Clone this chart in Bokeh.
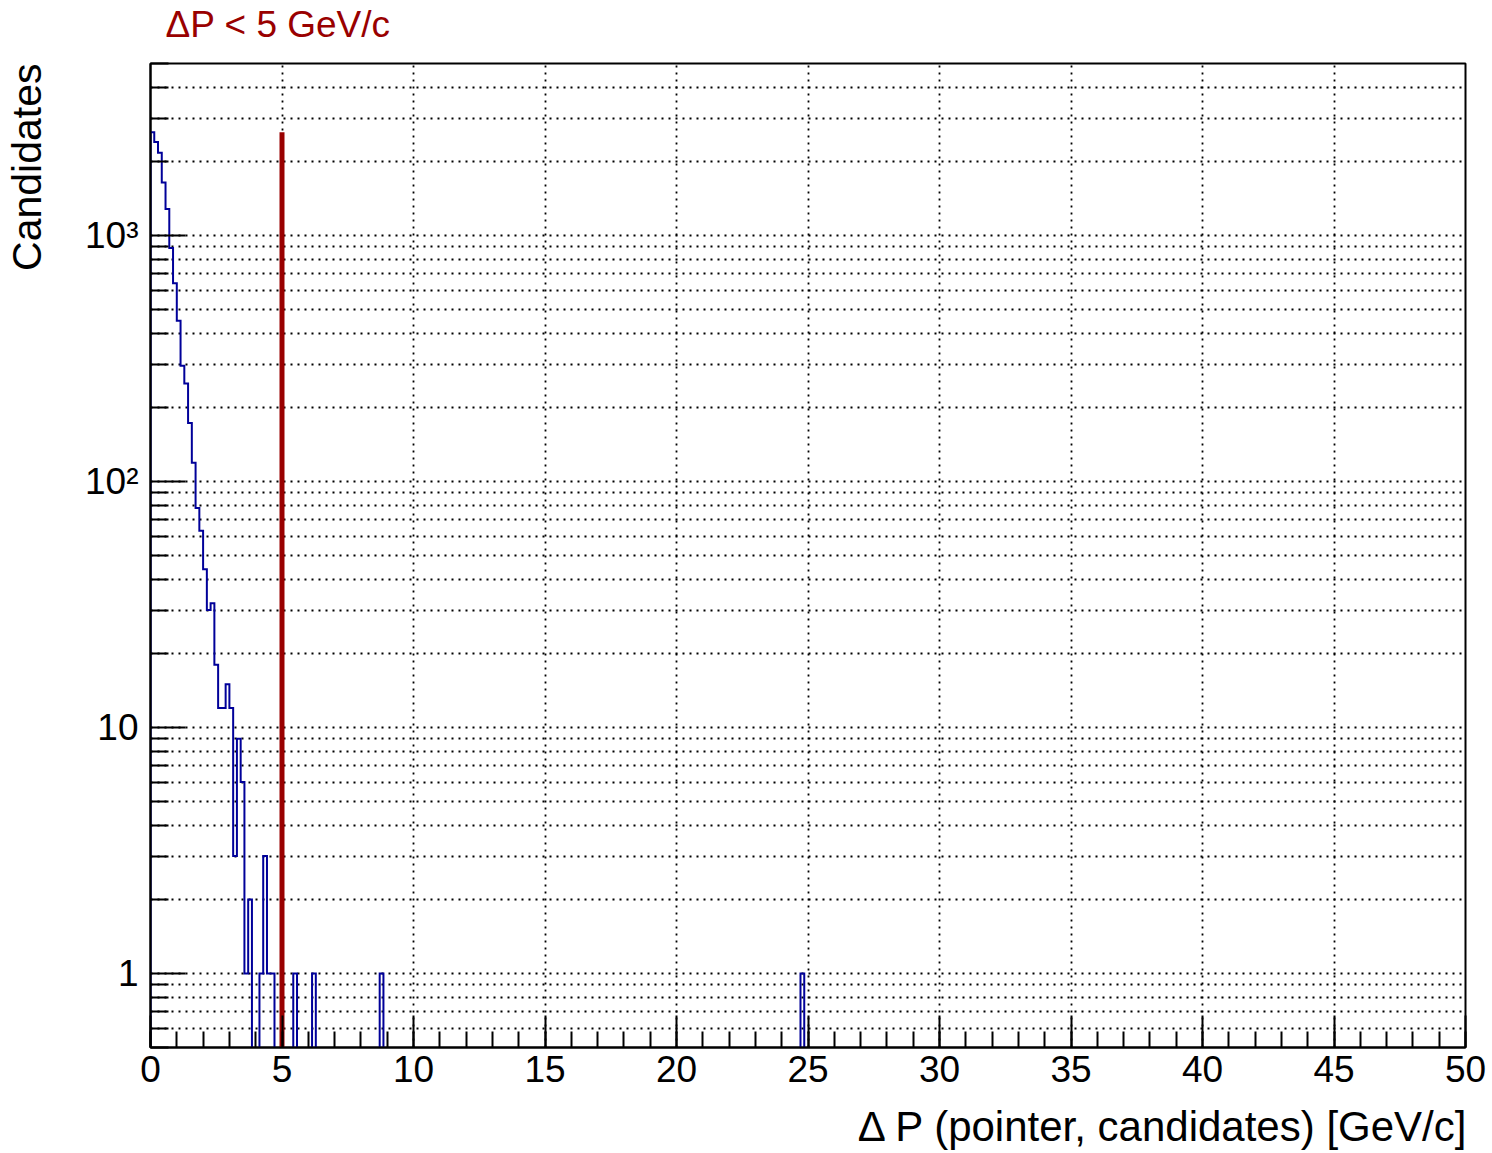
import numpy as np
from bokeh.plotting import figure
from bokeh.models import (Title, SingleIntervalTicker, FixedTicker,
                          CustomJSTickFormatter, Range1d)
from bokeh.embed import file_html
from bokeh.resources import INLINE

# ---- histogram definition: 350 bins of width 1/7 GeV/c over [0, 50] ----
x_min, x_max = 0.0, 50.0
n_bins = 350

# entries of the first 33 bins (0 ... 4.71 GeV/c)
leading_counts = [2630, 2400, 2170, 1640, 1280, 890, 640, 450, 295, 250,
                  173, 119, 78, 63, 44, 30, 32, 18, 12, 12,
                  15, 12, 3, 9, 6, 1, 2, 0, 0, 1,
                  3, 1, 1]
# isolated single-entry bins further out
tail_bins = [38, 43, 61, 173]
tail_counts = [1, 1, 1, 1]

# selection cut
cut_value = 5.0
cut_text = "ΔP < 5 GeV/c"

# axes
y_min, y_max = 0.5, 5000.0
y_major_ticks = [1, 10, 100, 1000]
y_tick_labels = ["1", "10", "10²", "10³"]
x_title = "Δ P (pointer, candidates) [GeV/c]"
y_title = "Candidates"

FONT = "Liberation Sans"
HIST_COLOR = "#000099"
CUT_COLOR = "#990000"

counts = np.zeros(n_bins)
counts[:len(leading_counts)] = leading_counts
counts[tail_bins] = tail_counts
edges = np.linspace(x_min, x_max, n_bins + 1)

# outline of the histogram; empty bins drop below the frame bottom
floor = 0.1
heights = np.where(counts > 0, counts, floor)
xs = np.concatenate([[edges[0]], np.repeat(edges, 2)[1:-1], [edges[-1]]])
ys = np.concatenate([[floor], np.repeat(heights, 2), [floor]])

# minor ticks of the log axis: 2..9 within each decade
y_minor_ticks = [m * 10.0 ** e for e in range(-1, 4) for m in range(2, 10)
                 if y_min <= m * 10.0 ** e <= y_max]

p = figure(width=1492, height=1153, y_axis_type="log",
           x_range=Range1d(x_min, x_max), y_range=Range1d(y_min, y_max),
           output_backend="svg", toolbar_location=None, title=None,
           min_border_left=150, min_border_right=27,
           min_border_top=63, min_border_bottom=106)
p.background_fill_color = "white"
p.border_fill_color = "white"
p.outline_line_color = "black"
p.outline_line_width = 2

# axes
p.xaxis.ticker = SingleIntervalTicker(interval=5, num_minor_ticks=5)
p.yaxis.ticker = FixedTicker(ticks=y_major_ticks, minor_ticks=y_minor_ticks)
p.yaxis.formatter = CustomJSTickFormatter(
    args=dict(vals=y_major_ticks, labs=y_tick_labels),
    code="""
        for (let i = 0; i < vals.length; i++) {
            if (Math.abs(vals[i] - tick) < 1e-6 * vals[i]) return labs[i];
        }
        return "";
    """)

for ax in (p.xaxis[0], p.yaxis[0]):
    ax.axis_line_color = "black"
    ax.axis_line_width = 2
    ax.major_tick_line_color = "black"
    ax.major_tick_line_width = 2
    ax.minor_tick_line_color = "black"
    ax.minor_tick_line_width = 2
    ax.major_tick_out = 0
    ax.minor_tick_out = 0
    ax.major_label_text_font = FONT
    ax.major_label_text_font_size = "37px"
    ax.major_label_text_color = "black"

p.xaxis.major_tick_in = 32
p.xaxis.minor_tick_in = 16
p.xaxis.major_label_standoff = 8
p.yaxis.major_tick_in = 35
p.yaxis.minor_tick_in = 18
p.yaxis.major_label_standoff = 12

# dotted grid: x at major ticks, y at every decade and sub-decade tick
for g in (p.xgrid[0], p.ygrid[0]):
    g.grid_line_color = "black"
    g.grid_line_dash = "2 5"
    g.grid_line_width = 1.8
p.ygrid.minor_grid_line_color = "black"
p.ygrid.minor_grid_line_dash = "2 5"
p.ygrid.minor_grid_line_width = 1.8

# histogram outline
p.line(xs, ys, line_color=HIST_COLOR, line_width=2, line_join="miter")

# cut marker, drawn up to the histogram maximum
p.segment(x0=[cut_value], y0=[floor], x1=[cut_value], y1=[counts.max()],
          line_color=CUT_COLOR, line_width=5)

# texts in the side panels; an empty second line keeps each text
# at a distance from the frame without widening the borders
p.add_layout(Title(text=cut_text + "\n", align="left", offset=15, standoff=0,
                   vertical_align="bottom", text_line_height=0.44,
                   text_font=FONT, text_font_size="37px",
                   text_font_style="normal", text_color=CUT_COLOR), "above")
p.add_layout(Title(text="\n" + x_title, align="right", offset=-4, standoff=0,
                   vertical_align="bottom", text_line_height=0.36,
                   text_font=FONT, text_font_size="42px",
                   text_font_style="normal", text_color="black"), "below")
p.add_layout(Title(text=y_title + "\n", align="right", standoff=0,
                   vertical_align="bottom", text_line_height=0.70,
                   text_font=FONT, text_font_size="41px",
                   text_font_style="normal", text_color="black"), "left")

open("out.html", "w").write(file_html(p, INLINE))
